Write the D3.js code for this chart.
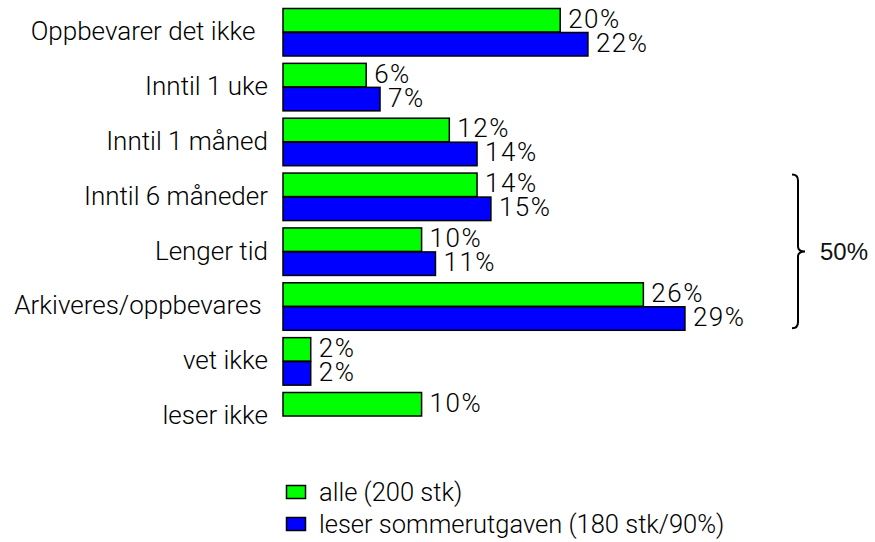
<!DOCTYPE html>
<html>
<head>
<meta charset="utf-8">
<script src="https://cdn.jsdelivr.net/npm/d3@7/dist/d3.min.js"></script>
<style>
  html, body { margin: 0; padding: 0; background: #fff; }
  svg { display: block; }
  text { font-family: Roboto, "Liberation Sans", Arial, sans-serif; font-weight: 300; fill: #000; white-space: pre; }
  text.val { letter-spacing: 1.5px; }
  text.bracket { font-family: "Liberation Sans", Arial, sans-serif; font-weight: 400; fill: #111; }
</style>
</head>
<body>
<svg id="chart" width="875" height="542"></svg>
<script>
// Category labels (trailing spaces kept as in the original layout)
const categories = [
  "Oppbevarer det ikke  ",
  "Inntil 1 uke",
  "Inntil 1 måned",
  "Inntil 6 måneder",
  "Lenger tid",
  "Arkiveres/oppbevares ",
  "vet ikke",
  "leser ikke"
];

// Percentages per series; null means no bar for that category
const alle = [20, 6, 12, 14, 10, 26, 2, 10];
const sommer = [22, 7, 14, 15, 11, 29, 2, null];

const seriesNames = ["alle (200 stk)", "leser sommerutgaven (180 stk/90%)"];
const seriesColors = ["#00ff00", "#0000ff"];

// Bracketed group total
const bracketLabel = "50%";
const bracketFrom = "Inntil 6 måneder";
const bracketTo = "Arkiveres/oppbevares ";

const svg = d3.select("#chart");

const x = d3.scaleLinear().domain([0, 30]).range([283, 283 + 30 * 13.86]);
const y = d3.scaleBand().domain(categories).range([8, 440]).paddingInner(0.125).paddingOuter(0);
const ySub = d3.scaleBand().domain([0, 1]).range([0, y.bandwidth()]);

const rows = categories.map((c, i) => ({ cat: c, vals: [alle[i], sommer[i]] }));

const g = svg.append("g");

// Bars
const groups = g.selectAll("g.row").data(rows).join("g")
  .attr("class", "row")
  .attr("transform", d => `translate(0,${y(d.cat)})`);

groups.selectAll("rect").data(d => d.vals.map((v, k) => ({ v, k })).filter(e => e.v != null))
  .join("rect")
  .attr("x", x(0))
  .attr("y", e => ySub(e.k) + 0.5)
  .attr("width", e => x(e.v) - x(0))
  .attr("height", ySub.bandwidth() - 0.5)
  .attr("fill", e => seriesColors[e.k])
  .attr("stroke", "#000")
  .attr("stroke-width", 1.5);

// Value labels
groups.selectAll("text.val").data(d => d.vals.map((v, k) => ({ v, k })).filter(e => e.v != null))
  .join("text")
  .attr("class", "val")
  .attr("x", e => x(e.v) + 8)
  .attr("y", e => ySub(e.k) + ySub.bandwidth() / 2 - 1.5 + 9.2)
  .attr("font-size", 26)
  .text(e => e.v + "%");

// Category axis labels
g.selectAll("text.cat").data(categories).join("text")
  .attr("class", "cat")
  .attr("x", 268)
  .attr("y", c => y(c) + y.bandwidth() / 2 - 1 + 9.2)
  .attr("text-anchor", "end")
  .attr("font-size", 26)
  .text(c => c);

// Legend
const legend = svg.append("g");
seriesNames.forEach((name, k) => {
  const cy = 492 + k * 32;
  legend.append("rect")
    .attr("x", 286.5).attr("y", cy - 6.5)
    .attr("width", 19).attr("height", 13)
    .attr("fill", seriesColors[k])
    .attr("stroke", "#000").attr("stroke-width", 1.5);
  legend.append("text")
    .attr("x", 319).attr("y", cy + 9)
    .attr("font-size", 25.5)
    .text(name);
});

// Curly bracket spanning the grouped categories
const bTop = y(bracketFrom) + 2;
const bBot = y(bracketTo) + y.bandwidth() - 2;
const bMid = (bTop + bBot) / 2;
const bx = 798, bl = 792, br = 805;
const bracket = d3.path();
bracket.moveTo(bl, bTop);
bracket.quadraticCurveTo(bx, bTop, bx, bTop + 6);
bracket.lineTo(bx, bMid - 5);
bracket.quadraticCurveTo(bx, bMid, br, bMid);
bracket.quadraticCurveTo(bx, bMid, bx, bMid + 5);
bracket.lineTo(bx, bBot - 6);
bracket.quadraticCurveTo(bx, bBot, bl, bBot);
svg.append("path")
  .attr("d", bracket.toString())
  .attr("fill", "none")
  .attr("stroke", "#000")
  .attr("stroke-width", 2);

svg.append("text")
  .attr("class", "bracket")
  .attr("x", 820).attr("y", bMid + 8.5)
  .attr("font-size", 24)
  .text(bracketLabel);
</script>
</body>
</html>
